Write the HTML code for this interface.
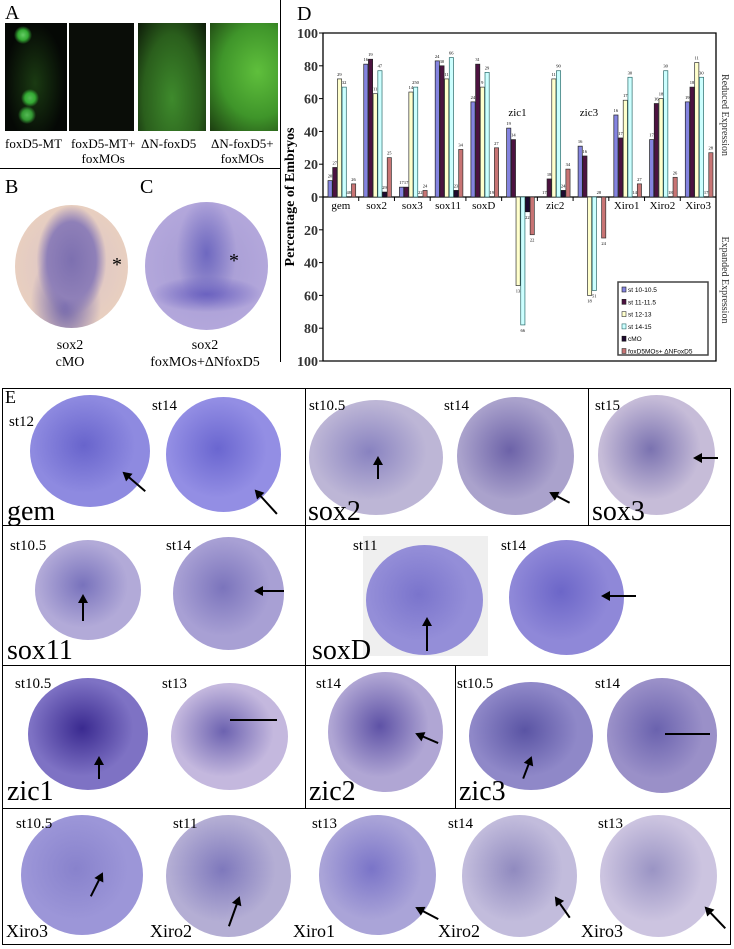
<!DOCTYPE html>
<html><head><meta charset="utf-8">
<style>
body{margin:0;width:734px;height:949px;background:#fff;position:relative;overflow:hidden;font-family:"Liberation Serif",serif;color:#000}
.a{position:absolute}
.lbl{position:absolute;font-family:"Liberation Serif",serif;white-space:nowrap}
.emb{position:absolute;border-radius:50%}
.st{position:absolute;font-size:15px;font-family:"Liberation Serif",serif}
.nm{position:absolute;font-size:28px;font-family:"Liberation Serif",serif;line-height:1}
.nm2{position:absolute;font-size:18px;font-family:"Liberation Serif",serif;line-height:1}
.arr{position:absolute;height:2px;background:#000;transform-origin:0 50%}
.arr::after{content:"";position:absolute;left:-2px;top:-4px;border-right:9px solid #000;border-top:5px solid transparent;border-bottom:5px solid transparent}
</style></head><body>
<!-- Panel A -->
<div class="lbl" style="left:5px;top:2px;font-size:20px">A</div>
<div class="a" style="left:5px;top:23px;width:62px;height:108px;background:radial-gradient(circle at 18px 12px,#6c6 0,#3a3 5px,transparent 9px),radial-gradient(circle at 25px 75px,#5b5 0,#3a3 5px,transparent 9px),radial-gradient(circle at 22px 92px,#5b5 0,#393 5px,transparent 9px),radial-gradient(ellipse 30px 60px at 30px 60px,#1a3a12,#050805);"></div>
<div class="a" style="left:69px;top:23px;width:65px;height:108px;background:#0a0d08"></div>
<div class="a" style="left:138px;top:23px;width:68px;height:108px;background:radial-gradient(ellipse at 50% 70%,#3e8a2c,#2a5e1c 60%,#0d1a08)"></div>
<div class="a" style="left:210px;top:23px;width:68px;height:108px;background:radial-gradient(ellipse at 70% 45%,#5fbf3c,#3f952a 55%,#1c3d10)"></div>
<div class="lbl" style="left:5px;top:136px;font-size:13px">foxD5-MT</div>
<div class="lbl" style="left:71px;top:136px;font-size:13px;text-align:center;line-height:15px">foxD5-MT+<br>foxMOs</div>
<div class="lbl" style="left:141px;top:136px;font-size:13px">ΔN-foxD5</div>
<div class="lbl" style="left:211px;top:136px;font-size:13px;text-align:center;line-height:15px">ΔN-foxD5+<br>foxMOs</div>
<div class="a" style="left:0;top:168px;width:280px;height:1px;background:#000"></div>
<div class="a" style="left:280px;top:0;width:1px;height:362px;background:#000"></div>
<!-- B & C -->
<div class="lbl" style="left:5px;top:176px;font-size:20px">B</div>
<div class="lbl" style="left:140px;top:176px;font-size:20px">C</div>
<div class="emb" style="left:15px;top:205px;width:113px;height:123px;background:radial-gradient(ellipse 35px 55px at 50% 45%,#7d70b0,#8f80b8 70%,transparent 100%),radial-gradient(ellipse at 45% 80%,#6a5fa8 0,transparent 40%),radial-gradient(ellipse at 50% 50%,#d9c2c8,#e8cfc0 70%,#f0dcc8 95%,#fff 100%)"></div>
<div class="emb" style="left:145px;top:202px;width:123px;height:128px;background:radial-gradient(ellipse 30px 55px at 50% 40%,#6e68c0,transparent 100%),radial-gradient(ellipse 55px 18px at 50% 72%,#6a60c0,transparent 100%),radial-gradient(ellipse at 50% 50%,#a49ad2,#b4a8dc 75%,#d6c8ee 95%,#fff 100%)"></div>
<div class="lbl" style="left:112px;top:254px;font-size:20px">*</div>
<div class="lbl" style="left:229px;top:250px;font-size:20px">*</div>
<div class="lbl" style="left:70px;top:337px;font-size:14px;transform:translateX(-50%);text-align:center;line-height:17px">sox2<br>cMO</div>
<div class="lbl" style="left:205px;top:337px;font-size:14px;transform:translateX(-50%);text-align:center;line-height:17px">sox2<br>foxMOs+ΔNfoxD5</div>

<!-- Panel D chart -->
<svg class="a" style="left:0;top:0" width="734" height="370" id="chart"></svg>

<!-- Panel E -->
<div class="a" style="left:2px;top:388px;width:729px;height:557px;border:1px solid #000;box-sizing:border-box"></div>
<div class="a" style="left:2px;top:525px;width:729px;height:1px;background:#000"></div>
<div class="a" style="left:2px;top:665px;width:729px;height:1px;background:#000"></div>
<div class="a" style="left:2px;top:808px;width:729px;height:1px;background:#000"></div>
<div class="a" style="left:305px;top:388px;width:1px;height:420px;background:#000"></div>
<div class="a" style="left:588px;top:388px;width:1px;height:137px;background:#000"></div>
<div class="a" style="left:455px;top:665px;width:1px;height:143px;background:#000"></div>
<div class="lbl" style="left:5px;top:387px;font-size:18px">E</div>
<div class="a" style="left:363px;top:536px;width:125px;height:120px;background:#efefef"></div>

<div id="embryos"></div>
<script>
(function(){
  var E=[
   [30,395,120,112,'#8e8ae0','#6864cc','embryo-gem-st12'],
   [166,397,115,115,'#938ee4','#6a66d0','embryo-gem-st14'],
   [309,400,134,115,'#bdb6d6','#8882c0','embryo-sox2-st10-5'],
   [457,397,117,118,'#aaa2cc','#6c62a8','embryo-sox2-st14'],
   [598,395,117,120,'#c6bcd8','#7a72b0','embryo-sox3-st15'],
   [35,540,106,100,'#b2aad8','#7872bc','embryo-sox11-st10-5'],
   [173,537,111,113,'#a8a0d4','#7b74bc','embryo-sox11-st14'],
   [366,545,117,110,'#948ed8','#7a74cc','embryo-soxd-st11'],
   [509,540,115,115,'#8f88d8','#6c66c8','embryo-soxd-st14'],
   [28,678,120,112,'#7e72c4','#3a2a90','embryo-zic1-st10-5'],
   [171,683,117,107,'#c4b8de','#6c62b0','embryo-zic1-st13'],
   [328,672,115,120,'#b0a6d4','#5e52a6','embryo-zic2-st14'],
   [469,682,124,108,'#8f88c8','#5a54a4','embryo-zic3-st10-5'],
   [607,678,110,115,'#9a90c8','#6a62ae','embryo-zic3-st14'],
   [21,815,122,120,'#9c96d8','#8882cc','embryo-xiro3-st10-5'],
   [166,815,125,122,'#b4aed4','#7e78bc','embryo-xiro2-st11'],
   [319,815,117,120,'#aaa4d8','#7a74c8','embryo-xiro1-st13'],
   [462,815,115,122,'#c2bcdc','#908abf','embryo-xiro2-st14'],
   [600,815,117,122,'#ccc4e0','#9a94c4','embryo-xiro3-st13']];
  var host=document.getElementById('embryos');
  E.forEach(function(e){
    var d=document.createElement('div');
    d.className='emb';
    
    
    d.style.cssText='left:'+e[0]+'px;top:'+e[1]+'px;width:'+e[2]+'px;height:'+e[3]+'px;background:radial-gradient(ellipse at 45% 45%,'+e[5]+' 0,'+e[4]+' 55%,'+e[4]+' 80%,#e8def0 96%,rgba(255,255,255,0) 100%)';
    host.appendChild(d);
  });
  var S=[[9,414,'st12'],[152,398,'st14'],[309,398,'st10.5'],[444,398,'st14'],[595,398,'st15'],
   [10,538,'st10.5'],[166,538,'st14'],[353,538,'st11'],[501,538,'st14'],
   [15,676,'st10.5'],[162,676,'st13'],[316,676,'st14'],[457,676,'st10.5'],[595,676,'st14'],
   [16,816,'st10.5'],[173,816,'st11'],[312,816,'st13'],[448,816,'st14'],[598,816,'st13']];
  S.forEach(function(s){
    var d=document.createElement('div');d.className='st';
    
    
    d.style.left=s[0]+'px';d.style.top=s[1]+'px';d.textContent=s[2];host.appendChild(d);
  });
  var N=[[7,498,'gem','nm'],[308,498,'sox2','nm'],[592,498,'sox3','nm'],[7,637,'sox11','nm'],[312,637,'soxD','nm'],
   [7,778,'zic1','nm'],[309,778,'zic2','nm'],[459,778,'zic3','nm'],
   [6,922,'Xiro3','nm2'],[150,922,'Xiro2','nm2'],[293,922,'Xiro1','nm2'],[438,922,'Xiro2','nm2'],[581,922,'Xiro3','nm2']];
  N.forEach(function(s){
    var d=document.createElement('div');d.className=s[3];
    
    
    d.style.left=s[0]+'px';d.style.top=s[1]+'px';d.textContent=s[2];host.appendChild(d);
  });
  // arrows [tipx,tipy,tailx,taily]
  var A=[[124,472,145,490],[256,490,277,513],[378,457,378,478],[551,492,570,502],[695,457,718,457],
   [83,595,83,620],[256,590,284,590],[427,618,427,650],[603,595,636,595],
   [99,757,99,778],[417,733,438,742],[531,757,523,778],
   [102,873,91,895],[239,897,229,925],[417,907,438,918],[556,897,570,917],[706,907,725,927]];
  A.forEach(function(a){
    var dx=a[2]-a[0],dy=a[3]-a[1];
    var d=document.createElement('div');d.className='arr';
    
    
    d.style.left=a[0]+'px';d.style.top=a[1]+'px';d.style.width=Math.sqrt(dx*dx+dy*dy)+'px';
    d.style.transform='rotate('+(Math.atan2(dy,dx)*180/Math.PI)+'deg)';
    host.appendChild(d);
  });
  var L=[[230,719,47],[665,733,45]];
  L.forEach(function(l){
    var d=document.createElement('div');d.className='a';
    
    
    d.style.cssText='left:'+l[0]+'px;top:'+l[1]+'px;width:'+l[2]+'px;height:1.5px;background:#000';
    host.appendChild(d);
  });
})();
</script>

<script>
var categories=['gem','sox2','sox3','sox11','soxD','zic1','zic2','zic3','Xiro1','Xiro2','Xiro3'];
var seriesNames=['st 10-10.5','st 11-11.5','st 12-13','st 14-15','cMO','foxD5MOs+ \u0394NFoxD5'];
var st10=[10,81,6,83,58,42,0,31,50,35,58];
var st11=[18,84,6,80,81,35,11,25,36,57,67];
var st12=[72,63,64,72,67,-54,72,-60,59,60,82];
var st14=[67,77,67,85,76,-78,77,-57,73,77,73];
var cmo=[0,3,0,4,0,-9,4,0,0,0,0];
var fox=[8,24,4,29,30,-23,17,-25,8,12,27];
var nst10=[20,16,17,24,24,19,17,16,16,17,19];
var nst11=[27,19,17,30,31,14,18,16,17,16,18];
var nst12=[29,11,14,11,9,13,11,18,17,18,11];
var nst14=[32,47,250,66,29,66,90,51,30,30,30];
var ncmo=[48,29,22,23,19,22,24,28,14,18,17];
var nfox=[26,25,24,34,27,22,34,24,27,26,28];
var yTicks=[100,80,60,40,20,0,-20,-40,-60,-80,-100];

(function(){
  var svg=document.getElementById('chart'),NS='http://www.w3.org/2000/svg';
  var X0=323,X1=716,Y0=33,Y1=361,ZERO=197,GW=(X1-X0)/categories.length;
  function y(v){return ZERO-v*(ZERO-Y0)/100;}
  function x(g,i){return X0+g*GW+5+i*4.7;}
  function el(t,a,txt){var e=document.createElementNS(NS,t);for(var k in a)e.setAttribute(k,a[k]);if(txt!=null)e.textContent=txt;svg.appendChild(e);return e;}
  var fills=['#8484e0','#4c1240','#ffffcc','#ccffff','#1e0a30','#c87474'];
  var strokes=['#222','#222','#333','#2a6a6a','#111','#333'];
  var S=[st10,st11,st12,st14,cmo,fox];
  var NN=[nst10,nst11,nst12,nst14,ncmo,nfox];
  var t;
  t=el('text',{x:297,y:20,'font-size':20,'font-family':'Liberation Serif, serif'},'D');
  
  
  var fr=el('path',{d:'M'+X0+' '+Y0+'H'+X1+'V'+Y1+'H'+X0+'Z',fill:'none',stroke:'#000','stroke-width':1.3});
  
  
  yTicks.forEach(function(v){
    var tl=el('line',{x1:X0-4,x2:X0,y1:y(v),y2:y(v),stroke:'#000'});
    
    
    var tt=el('text',{x:X0-5,y:y(v)+5,'text-anchor':'end','font-size':14,'font-weight':'bold','font-family':'Liberation Serif, serif',fill:'#333'},Math.abs(v));
    
    
  });
  var zl=el('line',{x1:X0,x2:X1,y1:ZERO,y2:ZERO,stroke:'#000','stroke-width':1.2});
  
  
  categories.forEach(function(c,g){
    var tk=el('line',{x1:X0+(g+1)*GW,x2:X0+(g+1)*GW,y1:ZERO,y2:ZERO+4,stroke:'#000'});
    
    
    var above=(c==='zic1'||c==='zic3');
    var cl=el('text',{x:X0+g*GW+GW/2+(above?-2:0),y:above?116:209,'text-anchor':'middle','font-size':11,'font-family':'Liberation Serif, serif'},c);
    
    
    S.forEach(function(arr,i){
      var v=arr[g];
      if(v!==0){
        var r=el('rect',{x:x(g,i),y:Math.min(y(v),ZERO),width:4.2,height:Math.abs(y(v)-ZERO),fill:fills[i],stroke:strokes[i],'stroke-width':0.7});
        
        
      }
      var ly=v>=0?y(v)-3:y(v)+7;
      var nl=el('text',{x:x(g,i)+2,y:ly,'text-anchor':'middle','font-size':4.5,'font-family':'Liberation Serif, serif'},NN[i][g]);
      
      
    });
  });
  var ya=el('text',{transform:'translate(294,197) rotate(-90)','text-anchor':'middle','font-size':14,'font-weight':'bold','font-family':'Liberation Serif, serif'},'Percentage of Embryos');
  
  
  var r1=el('text',{transform:'translate(722,115) rotate(90)','text-anchor':'middle','font-size':10,'font-family':'Liberation Serif, serif',fill:'#333'},'Reduced Expression');
  
  
  var r2=el('text',{transform:'translate(722,280) rotate(90)','text-anchor':'middle','font-size':10,'font-family':'Liberation Serif, serif',fill:'#333'},'Expanded Expression');
  
  
  var lg=el('rect',{x:618,y:282,width:90,height:73,fill:'#fff',stroke:'#444','stroke-width':1.5});
  
  
  seriesNames.forEach(function(n,i){
    var ly=288+i*12.3;
    var sw=el('rect',{x:622,y:ly-1,width:4,height:5,fill:fills[i],stroke:strokes[i],'stroke-width':0.6});
    
    
    var lt=el('text',{x:628,y:ly+4,'font-size':6.5,'font-family':'Liberation Sans, sans-serif'},n);
    
    
  });
})();
</script>
</body></html>
